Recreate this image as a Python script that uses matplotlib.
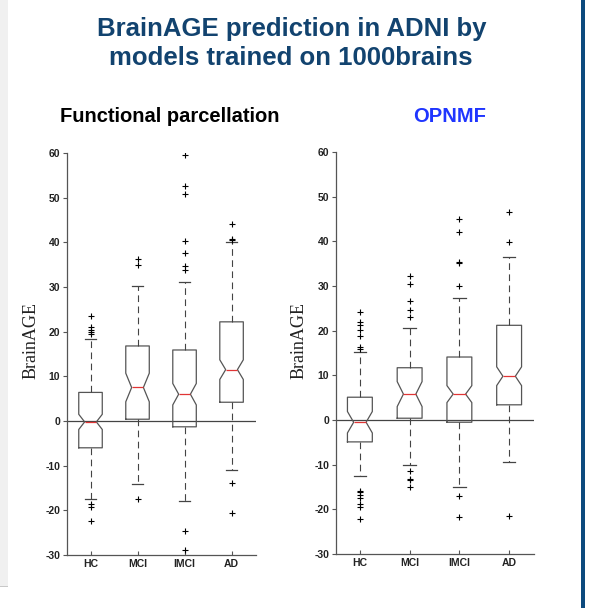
import matplotlib.pyplot as plt
from matplotlib.patches import Rectangle

groups = ['HC', 'MCI', 'IMCI', 'AD']

# Functional parcellation: median, notch half-width, q1, q3, whiskers, outliers
fp_med = [-0.2, 7.5, 6.0, 11.5]
fp_ci = [1.7, 3.2, 2.4, 2.2]
fp_q1 = [-6.0, 0.4, -1.3, 4.2]
fp_q3 = [6.4, 16.8, 15.9, 22.2]
fp_lo = [-17.5, -14.2, -18.0, -11.0]
fp_hi = [18.3, 30.3, 31.2, 40.0]
fp_out = [
    [23.5, 21.0, 20.4, 19.9, 19.4, -18.6, -19.2, -22.4],
    [36.2, 34.9, -17.4],
    [59.5, 52.5, 50.9, 40.3, 37.5, 34.7, 33.9, -24.6, -28.9],
    [44.2, 40.8, 40.5, -13.9, -20.6],
]

# OPNMF
op_med = [-0.5, 5.8, 5.8, 9.8]
op_ci = [2.4, 2.8, 1.9, 2.1]
op_q1 = [-4.9, 0.4, -0.5, 3.4]
op_q3 = [5.1, 11.7, 14.1, 21.2]
op_lo = [-12.6, -10.1, -15.0, -9.4]
op_hi = [15.2, 20.6, 27.3, 36.4]
op_out = [
    [24.1, 22.0, 21.2, 20.2, 18.7, 16.4, 16.0, -15.8, -16.2, -16.7, -17.5, -18.8, -19.4, -22.2],
    [32.3, 30.4, 26.6, 24.7, 23.1, -11.4, -13.2, -13.4, -15.0],
    [45.1, 42.2, 35.3, 35.1, 30.0, -17.0, -21.7],
    [46.6, 39.9, -21.4],
]


def make_stats(med, ci, q1, q3, lo, hi, out):
    stats = []
    for i, g in enumerate(groups):
        stats.append(dict(label=g, med=med[i], q1=q1[i], q3=q3[i],
                          whislo=lo[i], whishi=hi[i], fliers=out[i],
                          cilo=med[i] - ci[i], cihi=med[i] + ci[i]))
    return stats


def draw_panel(ax, stats, xlim):
    ax.bxp(stats, positions=[1, 2, 3, 4], widths=0.5, shownotches=True,
           boxprops=dict(color='#555555', linewidth=0.9),
           whiskerprops=dict(color='#444444', linewidth=0.8, linestyle=(0, (6, 4))),
           capprops=dict(color='#444444', linewidth=0.9),
           medianprops=dict(color='#e03535', linewidth=0.9),
           flierprops=dict(marker='+', markeredgecolor='black', markersize=5,
                           markeredgewidth=0.8, linestyle='none'))
    ax.axhline(0, color='#444444', linewidth=0.9, zorder=0)
    ax.set_xlim(*xlim)
    ax.set_ylim(-30, 60)
    ax.set_yticks(range(-30, 61, 10))
    for s in ['top', 'right']:
        ax.spines[s].set_visible(False)
    for s in ['left', 'bottom']:
        ax.spines[s].set_color('#555555')
        ax.spines[s].set_linewidth(0.9)
    ax.tick_params(axis='y', direction='out', length=3, width=0.8, color='#555555',
                   labelsize=7.5, pad=2)
    ax.tick_params(axis='x', direction='in', length=3, width=0.8, color='#555555',
                   labelsize=7.5, pad=3)
    for lab in ax.get_xticklabels() + ax.get_yticklabels():
        lab.set_fontweight('bold')
        lab.set_color('#222222')


plt.rcParams['font.family'] = ['Liberation Sans', 'DejaVu Sans']
plt.rcParams['axes.unicode_minus'] = False

fig = plt.figure(figsize=(5.93, 6.08), dpi=100)

# slide decorations
fig.patches.append(Rectangle((0, 1 - 586 / 608), 8 / 593, 586 / 608, transform=fig.transFigure,
                             facecolor='#f0f0f0', edgecolor='none', zorder=0))
fig.patches.append(Rectangle((0, 1 - 587 / 608), 8 / 593, 1.5 / 608, transform=fig.transFigure,
                             facecolor='#c8c8c8', edgecolor='none', zorder=0))
fig.patches.append(Rectangle((581 / 593, 0), 4 / 593, 1, transform=fig.transFigure,
                             facecolor='#0d4a7e', edgecolor='none', zorder=0))

fig.text(0.492, 1 - 36 / 608, 'BrainAGE prediction in ADNI by', ha='center', va='baseline',
         fontsize=18.5, fontweight='bold', color='#12436f')
fig.text(0.491, 1 - 65 / 608, 'models trained on 1000brains', ha='center', va='baseline',
         fontsize=18.5, fontweight='bold', color='#12436f')
fig.text(0.287, 1 - 121.5 / 608, 'Functional parcellation', ha='center', va='baseline',
         fontsize=14.5, fontweight='bold', color='black')
fig.text(0.758, 1 - 121.5 / 608, 'OPNMF', ha='center', va='baseline',
         fontsize=14.5, fontweight='bold', color='#1f35ff')

ax1 = fig.add_axes([67 / 593, 1 - 555 / 608, 189 / 593, 402 / 608])
draw_panel(ax1, make_stats(fp_med, fp_ci, fp_q1, fp_q3, fp_lo, fp_hi, fp_out), (0.5, 4.52))

ax2 = fig.add_axes([336 / 593, 1 - 554 / 608, 198 / 593, 402 / 608])
draw_panel(ax2, make_stats(op_med, op_ci, op_q1, op_q3, op_lo, op_hi, op_out), (0.52, 4.5))

for x in [0.052, 0.504]:
    fig.text(x, 0.44, 'BrainAGE', rotation=90, ha='center', va='center',
             fontsize=13, family='Liberation Serif', color='#222222')

fig.savefig('out.png', dpi=100)
